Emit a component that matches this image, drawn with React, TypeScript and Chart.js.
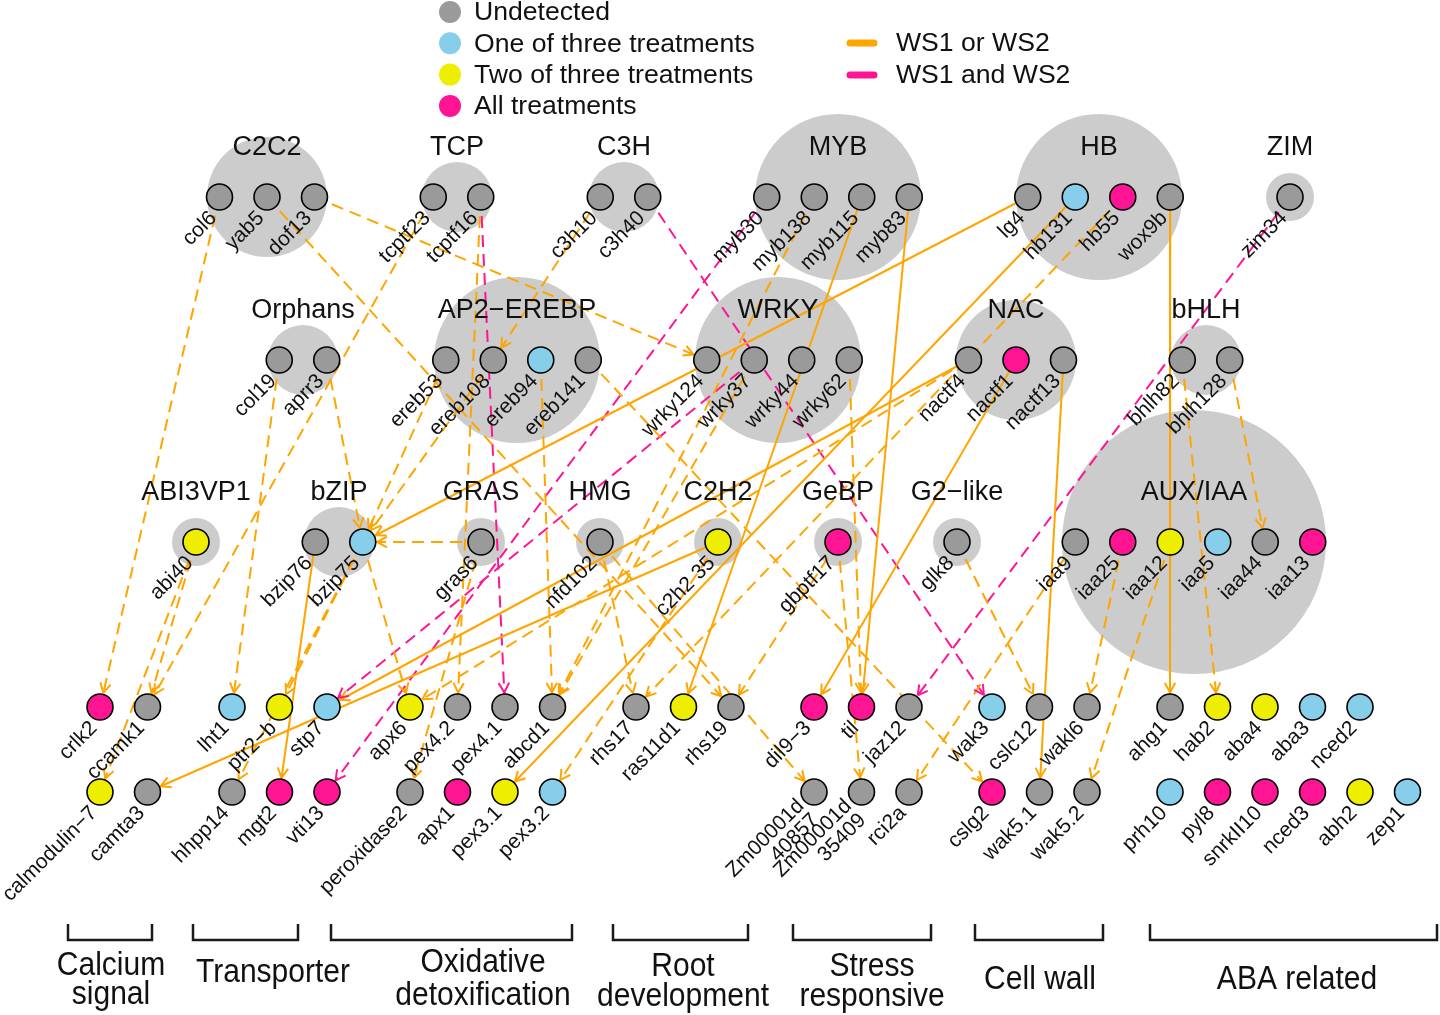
import React, { useEffect, useRef } from "react";
import { Chart, registerables } from "chart.js";

Chart.register(...registerables);

// ================= DATA =================
const familyNames = [
  "C2C2", "TCP", "C3H", "MYB", "HB", "ZIM",
  "Orphans", "AP2\u2212EREBP", "WRKY", "NAC", "bHLH",
  "ABI3VP1", "bZIP", "GRAS", "HMG", "C2H2", "GeBP", "G2\u2212like", "AUX/IAA",
];
const familyGenes = [
  ["col6", "yab5", "dof13"],
  ["tcptf23", "tcptf16"],
  ["c3h10", "c3h40"],
  ["myb30", "myb138", "myb115", "myb83"],
  ["lg4", "hb131", "hb55", "wox9b"],
  ["zim34"],
  ["col19", "aprr3"],
  ["ereb53", "ereb108", "ereb94", "ereb141"],
  ["wrky124", "wrky37", "wrky44", "wrky62"],
  ["nactf4", "nactf1", "nactf13"],
  ["bhlh82", "bhlh128"],
  ["abi40"],
  ["bzip76", "bzip75"],
  ["gras6"],
  ["nfd102"],
  ["c2h2 35"],
  ["gbptf17"],
  ["glk8"],
  ["iaa9", "iaa25", "iaa12", "iaa5", "iaa44", "iaa13"],
];
// 0 undetected, 1 one of three, 2 two of three, 3 all treatments
const familyStatus = [
  [0, 0, 0], [0, 0], [0, 0], [0, 0, 0, 0], [0, 1, 3, 0], [0],
  [0, 0], [0, 0, 1, 0], [0, 0, 0, 0], [0, 3, 0], [0, 0],
  [2], [0, 1], [0], [0], [2], [3], [0], [0, 3, 2, 1, 0, 3],
];

const categoryLabels = [
  ["Calcium", "signal"], ["Transporter"], ["Oxidative", "detoxification"],
  ["Root", "development"], ["Stress", "responsive"], ["Cell wall"], ["ABA related"],
];
const upperTargets = [
  ["crlk2", "ccamk1"],
  ["lht1", "ptr2\u2212b", "stp7"],
  ["apx6", "pex4.2", "pex4.1", "abcd1"],
  ["rhs17", "ras11d1", "rhs19"],
  ["dil9\u22123", "til", "jaz12"],
  ["wak3", "cslc12", "wakl6"],
  ["ahg1", "hab2", "aba4", "aba3", "nced2"],
];
const upperStatus = [[3, 0], [1, 2, 1], [2, 0, 0, 0], [0, 2, 0], [3, 3, 0], [1, 0, 0], [0, 2, 2, 1, 1]];
const lowerTargets = [
  ["calmodulin\u22127", "camta3"],
  ["hhpp14", "mgt2", "vti13"],
  ["peroxidase2", "apx1", "pex3.1", "pex3.2"],
  [],
  ["Zm00001d\n40857", "Zm00001d\n35409", "rci2a"],
  ["cslg2", "wak5.1", "wak5.2"],
  ["prh10", "pyl8", "snrkII10", "nced3", "abh2", "zep1"],
];
const lowerStatus = [[2, 0], [0, 3, 3], [0, 3, 2, 1], [], [0, 0, 0], [3, 0, 0], [1, 3, 3, 3, 2, 1]];

const statusLabels = ["Undetected", "One of three treatments", "Two of three treatments", "All treatments"];
const edgeTypeLabels = ["WS1 or WS2", "WS1 and WS2"];

// WS1 or WS2, solid
const orSolidEdges = [
  ["lg4", "bzip75"], ["hb131", "pex3.1"], ["nactf4", "stp7"], ["c2h2 35", "camta3"],
  ["nactf1", "dil9\u22123"], ["myb83", "til"], ["myb115", "ras11d1"], ["bzip76", "mgt2"],
  ["nactf13", "wak5.1"], ["wox9b", "ahg1"],
];
// WS1 or WS2, dashed
const orDashedEdges = [
  ["col6", "crlk2"], ["tcptf23", "ccamk1"], ["abi40", "ccamk1"], ["abi40", "calmodulin\u22127"],
  ["col19", "lht1"], ["aprr3", "bzip75"], ["ereb53", "bzip75"], ["ereb108", "bzip75"],
  ["gras6", "bzip75"], ["bzip75", "ptr2\u2212b"], ["bzip75", "hhpp14"], ["bzip75", "apx6"],
  ["gras6", "peroxidase2"], ["nactf4", "apx6"], ["tcptf16", "pex4.2"], ["ereb94", "abcd1"],
  ["myb138", "abcd1"], ["wrky37", "abcd1"], ["hb55", "rhs17"], ["c2h2 35", "pex3.2"],
  ["c3h10", "ereb108"], ["dof13", "wrky124"], ["yab5", "rhs19"], ["ereb141", "cslg2"],
  ["nfd102", "rhs17"], ["gbptf17", "rhs19"], ["wrky62", "til"], ["gbptf17", "Zm00001d\n35409"],
  ["nfd102", "Zm00001d\n40857"], ["iaa9", "rci2a"], ["glk8", "cslc12"], ["iaa25", "wakl6"],
  ["iaa12", "wak5.2"], ["bhlh82", "hab2"], ["bhlh128", "iaa44"],
];
// WS1 and WS2, dashed
const andDashedEdges = [
  ["tcptf16", "pex4.1"], ["c3h40", "wak3"], ["myb30", "vti13"], ["wrky37", "stp7"], ["zim34", "jaz12"],
];

// ================= LAYOUT / STYLE =================
const W = 1440;
const H = 1015;
const STEP = 47.5;
const ROW_Y = [197, 360, 542];
const familyRow = [0, 0, 0, 0, 0, 0, 1, 1, 1, 1, 1, 2, 2, 2, 2, 2, 2, 2, 2];
const familyCenterX = [267, 457, 624, 838, 1099, 1290, 303, 517, 778, 1016, 1206, 196, 339, 481, 600, 718, 838, 957, 1194];
const TARGET_Y = [707, 792];
const categoryStartX = [100, 232, 410, 636, 814, 992, 1170];
const bracketX = [[68, 152], [193, 298], [331, 572], [613, 748], [793, 931], [975, 1103], [1150, 1437]];
const categoryLabelX = [111, 273, 483, 683, 872, 1040, 1297];
const categoryLabelY = [[966, 995], [973], [963, 996], [967, 997], [967, 997], [980], [980]];

const STATUS_COLORS = ["#9a9a9a", "#87CEEB", "#EEEE00", "#FF1493"];
const OR_COLOR = "#FFA500";
const AND_COLOR = "#FF1493";
const BUBBLE_COLOR = "#CCCCCC";
const NODE_R = 13;
const FONT = 'Arial, "Liberation Sans", Helvetica, sans-serif';
const TEXT_COLOR = "#111111";

const bubbleRadius = (n: number) => ({ 1: 24, 2: 35, 3: 60, 4: 83, 6: 132 } as any)[n] || 24;

type NodeT = { name: string; x: number; y: number; status: number };
const nodes: NodeT[] = [];
familyGenes.forEach((genes, f) => {
  const cx = familyCenterX[f];
  const y = ROW_Y[familyRow[f]];
  genes.forEach((g, i) => {
    nodes.push({ name: g, x: cx + (i - (genes.length - 1) / 2) * STEP, y, status: familyStatus[f][i] });
  });
});
categoryStartX.forEach((sx, c) => {
  upperTargets[c].forEach((g, i) => nodes.push({ name: g, x: sx + i * STEP, y: TARGET_Y[0], status: upperStatus[c][i] }));
  lowerTargets[c].forEach((g, i) => nodes.push({ name: g, x: sx + i * STEP, y: TARGET_Y[1], status: lowerStatus[c][i] }));
});
const nodeMap: Record<string, NodeT> = {};
nodes.forEach((n) => (nodeMap[n.name] = n));

type EdgeT = { from: string; to: string; color: string; dashed: boolean };
const edges: EdgeT[] = [
  ...orSolidEdges.map(([a, b]) => ({ from: a, to: b, color: OR_COLOR, dashed: false })),
  ...orDashedEdges.map(([a, b]) => ({ from: a, to: b, color: OR_COLOR, dashed: true })),
  ...andDashedEdges.map(([a, b]) => ({ from: a, to: b, color: AND_COLOR, dashed: true })),
].filter((e) => nodeMap[e.from] && nodeMap[e.to]);

// family bubbles ordered so the smallest ones sit at both ends (keeps Chart.js' overflow padding small)
const famSorted = familyNames.map((_, i) => i).sort((a, b) => familyGenes[a].length - familyGenes[b].length);
const bubbleOrder = [famSorted[0], ...famSorted.slice(2), famSorted[1]];

function textAt(ctx: CanvasRenderingContext2D, text: string, x: number, y: number, size: number, align: CanvasTextAlign, sx = 1) {
  ctx.save();
  ctx.translate(x, y);
  ctx.scale(sx, 1);
  ctx.font = `${size}px ${FONT}`;
  ctx.textAlign = align;
  ctx.textBaseline = "middle";
  ctx.fillStyle = TEXT_COLOR;
  ctx.fillText(text, 0, 0);
  ctx.restore();
}

const annotatePlugin = {
  id: "annotate",
  afterDatasetsDraw(chart: any) {
    const ctx: CanvasRenderingContext2D = chart.ctx;
    const xs = chart.scales.x;
    const ys = chart.scales.y;
    const px = (v: number) => xs.getPixelForValue(v);
    const py = (v: number) => ys.getPixelForValue(v);

    // arrowheads
    edges.forEach((e) => {
      const s = nodeMap[e.from];
      const t = nodeMap[e.to];
      const sx = px(s.x), sy = py(s.y), tx = px(t.x), ty = py(t.y);
      const dx = tx - sx, dy = ty - sy;
      const len = Math.hypot(dx, dy);
      const ux = dx / len, uy = dy / len;
      const tipX = tx - ux * (NODE_R + 1.5);
      const tipY = ty - uy * (NODE_R + 1.5);
      ctx.save();
      ctx.strokeStyle = e.color;
      ctx.lineWidth = 2;
      ctx.setLineDash([]);
      [-0.5, 0.5].forEach((a) => {
        const c = Math.cos(a), sn = Math.sin(a);
        const bx = -(ux * c - uy * sn) * 11;
        const by = -(ux * sn + uy * c) * 11;
        ctx.beginPath();
        ctx.moveTo(tipX, tipY);
        ctx.lineTo(tipX + bx, tipY + by);
        ctx.stroke();
      });
      ctx.restore();
    });

    // family names
    familyNames.forEach((name, f) => {
      textAt(ctx, name, px(familyCenterX[f]), py(ROW_Y[familyRow[f]] - 49), 27, "center");
    });

    // node labels
    nodes.forEach((n) => {
      const lines = n.name.split("\n");
      ctx.save();
      ctx.translate(px(n.x) - 6, py(n.y) + 18);
      ctx.rotate(-Math.PI / 4);
      ctx.font = `21px ${FONT}`;
      ctx.fillStyle = TEXT_COLOR;
      ctx.textAlign = "right";
      ctx.textBaseline = "middle";
      const lh = 20;
      lines.forEach((l, i) => ctx.fillText(l, 0, (i - (lines.length - 1) / 2) * lh));
      ctx.restore();
    });

    // legend: node status
    statusLabels.forEach((lab, i) => {
      const y = py(12 + i * 31.3);
      ctx.beginPath();
      ctx.fillStyle = STATUS_COLORS[i];
      ctx.arc(px(450), y, 11, 0, Math.PI * 2);
      ctx.fill();
      textAt(ctx, lab, px(474), y + 1, 26.6, "left");
    });
    // legend: edge type
    edgeTypeLabels.forEach((lab, i) => {
      const y = py(43 + i * 32);
      ctx.save();
      ctx.strokeStyle = i === 0 ? OR_COLOR : AND_COLOR;
      ctx.lineWidth = 7;
      ctx.lineCap = "round";
      ctx.beginPath();
      ctx.moveTo(px(850), y);
      ctx.lineTo(px(874), y);
      ctx.stroke();
      ctx.restore();
      textAt(ctx, lab, px(896), y + 1, 26.6, "left");
    });

    // category brackets
    ctx.save();
    ctx.strokeStyle = "#1a1a1a";
    ctx.lineWidth = 2.5;
    bracketX.forEach(([a, b]) => {
      ctx.beginPath();
      ctx.moveTo(px(a), py(924));
      ctx.lineTo(px(a), py(940));
      ctx.lineTo(px(b), py(940));
      ctx.lineTo(px(b), py(924));
      ctx.stroke();
    });
    ctx.restore();
    categoryLabels.forEach((lines, c) => {
      lines.forEach((l, i) => textAt(ctx, l, px(categoryLabelX[c]), py(categoryLabelY[c][i]), 33, "center", 0.91));
    });
  },
};

export default function App() {
  const ref = useRef<HTMLCanvasElement>(null);
  useEffect(() => {
    const canvas = ref.current!;
    const datasets: any[] = [];
    // family bubbles (line controller, no line: overflow only uses first/last point)
    datasets.push({
      type: "line",
      showLine: false,
      data: bubbleOrder.map((f) => ({ x: familyCenterX[f], y: ROW_Y[familyRow[f]] })),
      pointRadius: bubbleOrder.map((f) => bubbleRadius(familyGenes[f].length)),
      pointBackgroundColor: BUBBLE_COLOR,
      pointBorderWidth: 0,
      borderWidth: 0,
      clip: false,
      order: 3,
    });
    edges.forEach((e) => {
      const s = nodeMap[e.from];
      const t = nodeMap[e.to];
      datasets.push({
        type: "line",
        showLine: true,
        data: [{ x: s.x, y: s.y }, { x: t.x, y: t.y }],
        borderColor: e.color,
        borderWidth: 2,
        borderDash: e.dashed ? [12, 7] : [],
        pointRadius: 0,
        fill: false,
        tension: 0,
        clip: false,
        order: 2,
      });
    });
    datasets.push({
      type: "line",
      showLine: false,
      data: nodes.map((n) => ({ x: n.x, y: n.y })),
      pointRadius: NODE_R,
      pointBackgroundColor: nodes.map((n) => STATUS_COLORS[n.status]),
      pointBorderColor: "#000000",
      pointBorderWidth: 1.6,
      borderWidth: 0,
      clip: false,
      order: 1,
    });

    const chart: any = new Chart(canvas, {
      type: "line",
      data: { datasets },
      options: {
        animation: false,
        responsive: false,
        devicePixelRatio: 1,
        events: [],
        layout: { padding: 0 },
        plugins: { legend: { display: false }, tooltip: { enabled: false } },
        scales: {
          x: { type: "linear", min: 0, max: W, display: false },
          y: { type: "linear", min: 0, max: H, reverse: true, display: false },
        },
      },
      plugins: [annotatePlugin as any],
    } as any);
    // make one data unit equal one canvas pixel, whatever padding Chart.js reserves
    const area = chart.chartArea;
    chart.options.scales.x.min = area.left;
    chart.options.scales.x.max = area.right;
    chart.options.scales.y.min = area.top;
    chart.options.scales.y.max = area.bottom;
    chart.update();
    return () => chart.destroy();
  }, []);
  return (
    <div style={{ position: "absolute", left: 0, top: 0, width: W, height: H, background: "#ffffff" }}>
      <canvas ref={ref} width={W} height={H} style={{ width: W, height: H, display: "block" }} />
    </div>
  );
}
